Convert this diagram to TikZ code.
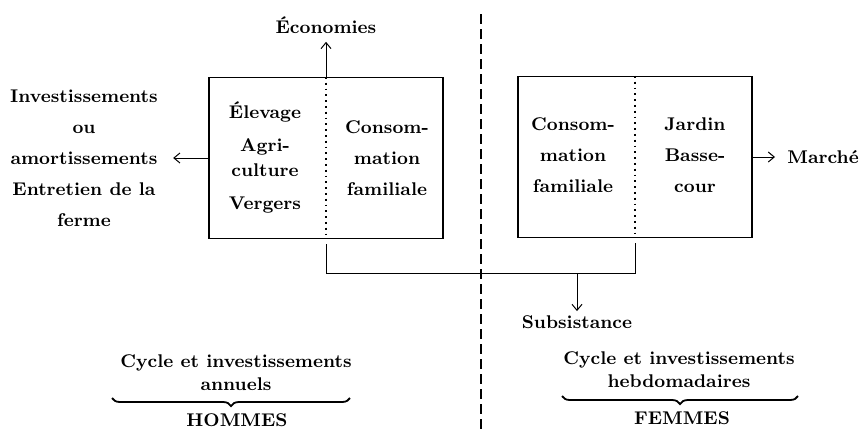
\documentclass[tikz,border=0pt]{standalone}
\usepackage{tikz}
\usetikzlibrary{arrows.meta}
\usetikzlibrary{positioning}
\usetikzlibrary{decorations,decorations.pathreplacing}
\tikzset{
    panel/.style={
      rectangle,
      draw=black,
      line width=0.6pt,
      minimum width=117pt,
      minimum height=80.5pt,
      inner sep=0pt
    },
    label/.style={
      text=black,
      align=center,
      inner sep=1pt,
      font=\fontsize{9.2}{15.5}\selectfont\bfseries
    },
    tight/.style={
      label,
      font=\fontsize{9.2}{11.5}\selectfont\bfseries
    },
    flow/.style={
      ->,
      line width=0.5pt,
      >={Straight Barb[length=3pt,width=5pt]}
    },
    underbrace/.style={
      decorate,
      decoration={brace,amplitude=4pt},
      line width=0.9pt
    },
}

\begin{document}
\begin{tikzpicture}[x=0.5pt,y=-0.5pt]
    \useasboundingbox (0,0) rectangle (865,430);

    % boxes
    \node[panel] (hbox) at (326,158) {};
    \node[panel] (fbox) at (635,157) {};
    \draw[dotted,line width=0.9pt] (hbox.north) -- (hbox.south);
    \draw[dotted,line width=0.9pt] (fbox.north) -- (fbox.south);

    % box contents
    \node[label,font=\fontsize{9.2}{12.5}\selectfont\bfseries] (elev) at (265,157)
      {\'Elevage\\[4pt]Agri-\\culture\\[4pt]Vergers};
    \node[label] (consH) at (387,158) {Consom-\\mation\\familiale};
    \node[label] (consF) at (573,155) {Consom-\\mation\\familiale};
    \node[label] (jard) at (695,155) {Jardin\\Basse-\\cour};

    % outside texts
    \node[label] (invest) at (84,158)
      {Investissements\\ou\\amortissements\\Entretien de la\\ferme};
    \node[label] (eco) at (326,25) {\'Economies};
    \node[label,anchor=west] (march) at (785,157) {March\'e};
    \node[label] (subs) at (577,322) {Subsistance};

    % flows
    \draw[flow] (hbox.west) -- ([xshift=6.5pt]invest.east |- hbox.west);
    \draw[flow,shorten >=3pt] (hbox.north) -- (eco.south);
    \draw[flow,shorten >=5pt] (fbox.east) -- (march.west);
    \coordinate (junc) at (577,273);
    \draw[line width=0.5pt,shorten <=2.5pt,shorten >=2.5pt] (hbox.south) |- (junc) -| (fbox.south);
    \draw[flow,shorten >=1pt] (junc) -- (subs.north);

    % separation
    \draw[line width=0.7pt,dash pattern=on 5pt off 2.5pt] (481,14) -- (481,430);

    % cycles
    \node[tight] (cycH) at (236,373) {Cycle et investissements\\annuels};
    \node[tight] (cycF) at (679,370) {Cycle et investissements\\hebdomadaires};
    \draw[underbrace] (350,398) -- (112,398);
    \draw[underbrace] (798,396) -- (562,396);
    \node[label] (men) at (237,420) {HOMMES};
    \node[label] (women) at (682,418) {FEMMES};
\end{tikzpicture}
\end{document}
